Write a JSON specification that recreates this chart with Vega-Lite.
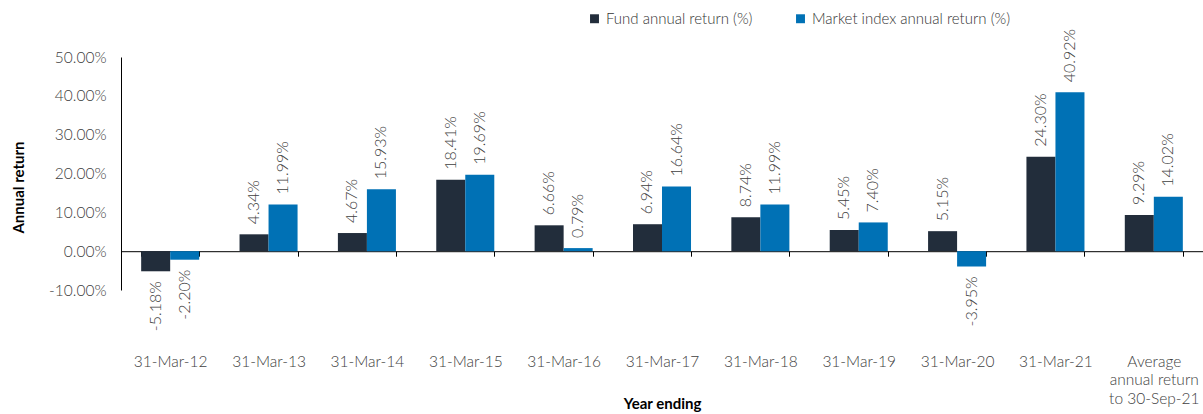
{
  "$schema": "https://vega.github.io/schema/vega-lite/v6.json",
  "width": 1082,
  "height": 233,
  "autosize": "none",
  "padding": {"left": 121, "top": 57, "right": 0, "bottom": 124},
  "config": {
    "view": {"stroke": null},
    "font": "Lato",
    "text": {"font": "Lato"},
    "locale": {"number": {"decimal": ".", "thousands": ",", "grouping": [3], "currency": ["$", ""], "minus": "-"}}
  },
  "data": {
    "values": [
      {"category": "31-Mar-12", "series": "Fund annual return (%)", "value": -0.0518},
      {"category": "31-Mar-12", "series": "Market index annual return (%)", "value": -0.0220},
      {"category": "31-Mar-13", "series": "Fund annual return (%)", "value": 0.0434},
      {"category": "31-Mar-13", "series": "Market index annual return (%)", "value": 0.1199},
      {"category": "31-Mar-14", "series": "Fund annual return (%)", "value": 0.0467},
      {"category": "31-Mar-14", "series": "Market index annual return (%)", "value": 0.1593},
      {"category": "31-Mar-15", "series": "Fund annual return (%)", "value": 0.1841},
      {"category": "31-Mar-15", "series": "Market index annual return (%)", "value": 0.1969},
      {"category": "31-Mar-16", "series": "Fund annual return (%)", "value": 0.0666},
      {"category": "31-Mar-16", "series": "Market index annual return (%)", "value": 0.0079},
      {"category": "31-Mar-17", "series": "Fund annual return (%)", "value": 0.0694},
      {"category": "31-Mar-17", "series": "Market index annual return (%)", "value": 0.1664},
      {"category": "31-Mar-18", "series": "Fund annual return (%)", "value": 0.0874},
      {"category": "31-Mar-18", "series": "Market index annual return (%)", "value": 0.1199},
      {"category": "31-Mar-19", "series": "Fund annual return (%)", "value": 0.0545},
      {"category": "31-Mar-19", "series": "Market index annual return (%)", "value": 0.0740},
      {"category": "31-Mar-20", "series": "Fund annual return (%)", "value": 0.0515},
      {"category": "31-Mar-20", "series": "Market index annual return (%)", "value": -0.0395},
      {"category": "31-Mar-21", "series": "Fund annual return (%)", "value": 0.2430},
      {"category": "31-Mar-21", "series": "Market index annual return (%)", "value": 0.4092},
      {"category": "Average annual return to 30-Sep-21", "series": "Fund annual return (%)", "value": 0.0929},
      {"category": "Average annual return to 30-Sep-21", "series": "Market index annual return (%)", "value": 0.1402}
    ]
  },
  "encoding": {
    "x": {
      "field": "category",
      "type": "nominal",
      "sort": null,
      "scale": {"paddingInner": 0.41, "paddingOuter": 0.205},
      "axis": {
        "title": "Year ending",
        "titleFont": "Lato",
        "titleFontSize": 15,
        "titleFontWeight": "bold",
        "titleColor": "#000000",
        "titleY": 152,
        "titleBaseline": "middle",
        "offset": -38.8,
        "domainColor": "#000000",
        "domainWidth": 1,
        "tickColor": "#000000",
        "tickSize": 5,
        "tickBand": "extent",
        "labelAngle": 0,
        "labelFont": "Lato",
        "labelFontSize": 15.5,
        "labelFontWeight": 300,
        "labelColor": "#404040",
        "labelPadding": 98,
        "labelLineHeight": 18.5,
        "labelExpr": "datum.value == 'Average annual return to 30-Sep-21' ? ['Average', 'annual return', 'to 30-Sep-21'] : datum.label"
      }
    },
    "xOffset": {
      "field": "series",
      "type": "nominal",
      "scale": {"domain": ["Fund annual return (%)", "Market index annual return (%)"]}
    },
    "y": {
      "field": "value",
      "type": "quantitative",
      "scale": {"domain": [-0.1, 0.5], "nice": false, "zero": false},
      "axis": {
        "title": "Annual return",
        "titleFont": "Lato",
        "titleFontSize": 15,
        "titleFontWeight": "bold",
        "titleColor": "#000000",
        "titleX": -103,
        "titleY": 130,
        "titleAngle": 270,
        "titleAlign": "center",
        "titleBaseline": "middle",
        "values": [-0.1, 0, 0.1, 0.2, 0.3, 0.4, 0.5],
        "format": ".2%",
        "grid": false,
        "ticks": false,
        "domainColor": "#000000",
        "domainWidth": 1,
        "labelFont": "Lato",
        "labelFontSize": 15.5,
        "labelFontWeight": 300,
        "labelColor": "#404040",
        "labelPadding": 15
      }
    }
  },
  "layer": [
    {
      "mark": {"type": "bar"},
      "encoding": {
        "color": {
          "field": "series",
          "type": "nominal",
          "scale": {
            "domain": ["Fund annual return (%)", "Market index annual return (%)"],
            "range": ["#222d3b", "#0071b5"]
          },
          "legend": {
            "title": null,
            "orient": "none",
            "direction": "horizontal",
            "legendX": 466,
            "legendY": -46,
            "symbolType": "square",
            "symbolSize": 80,
            "symbolStrokeWidth": 0,
            "labelFont": "Lato",
            "labelFontSize": 15,
            "labelFontWeight": 300,
            "labelLimit": 0,
            "labelColor": "#333333",
            "labelOffset": 4,
            "columnPadding": 40
          }
        }
      }
    },
    {
      "transform": [{"filter": "datum.value >= 0"}],
      "mark": {"type": "text", "angle": 270, "align": "left", "baseline": "middle", "dx": 10, "fontSize": 16, "fontWeight": 300, "color": "#404040", "font": "Lato"},
      "encoding": {
        "text": {"field": "value", "type": "quantitative", "format": ".2%"}
      }
    },
    {
      "transform": [{"filter": "datum.value < 0"}],
      "mark": {"type": "text", "angle": 270, "align": "right", "baseline": "middle", "dx": -10, "fontSize": 16, "fontWeight": 300, "color": "#404040", "font": "Lato"},
      "encoding": {
        "text": {"field": "value", "type": "quantitative", "format": ".2%"}
      }
    }
  ]
}
